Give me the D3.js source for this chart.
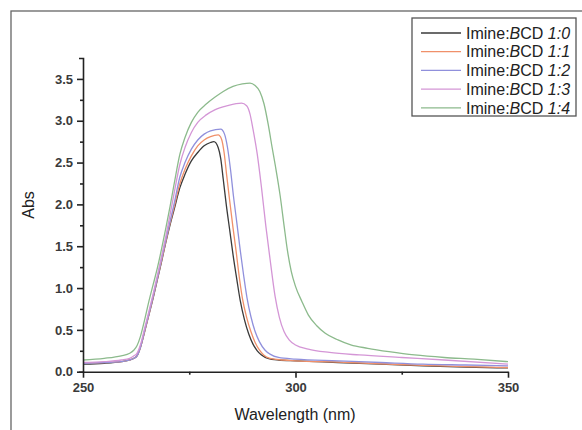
<!DOCTYPE html>
<html><head><meta charset="utf-8">
<script src="https://cdn.jsdelivr.net/npm/d3@7/dist/d3.min.js"></script>
<style>body{margin:0;background:#fff}svg{display:block;font-family:"Liberation Sans",Arial,sans-serif}</style>
</head><body><svg id="c" width="582" height="430"></svg>
<script>
const seriesNames = ["1:0","1:1","1:2","1:3","1:4"];
const seriesColors = ["#3a3a3a","#f0906a","#9090dc","#d496d6","#8cba8c"];
const s10 = [[250,0.09],[255,0.1],[259,0.12],[261,0.14],[262,0.16],[262.7,0.19],[263.5,0.29],[264.5,0.48],[265.5,0.68],[266.5,0.88],[267.5,1.1],[268.5,1.32],[269.5,1.55],[270.5,1.76],[271.5,1.95],[272.8,2.2],[274,2.36],[275.5,2.52],[277,2.62],[278.5,2.7],[280,2.74],[280.8,2.75],[281.8,2.68],[282.4,2.55],[283,2.3],[283.7,2.0],[284.5,1.7],[285.3,1.4],[286.2,1.1],[287,0.85],[288,0.62],[289,0.45],[290,0.33],[291,0.25],[292,0.2],[293.5,0.16],[296,0.14],[300,0.13],[310,0.11],[320,0.09],[330,0.07],[340,0.055],[350,0.045]];
const s11 = [[250,0.1],[255,0.11],[259,0.12],[261,0.14],[262,0.16],[262.7,0.19],[263.5,0.29],[264.5,0.48],[265.5,0.68],[266.5,0.89],[267.5,1.11],[268.5,1.33],[269.5,1.56],[270.5,1.78],[271.5,1.98],[272.8,2.25],[274,2.42],[275.5,2.58],[277,2.7],[278.5,2.77],[280,2.81],[281.8,2.83],[282.6,2.78],[283.2,2.62],[283.8,2.35],[284.5,2.05],[285.3,1.72],[286,1.45],[286.8,1.12],[287.5,0.88],[288.5,0.65],[289.5,0.48],[290.5,0.35],[291.5,0.26],[292.5,0.2],[294,0.16],[297,0.14],[300,0.13],[310,0.115],[320,0.095],[330,0.075],[340,0.06],[350,0.05]];
const s12 = [[250,0.1],[255,0.11],[259,0.12],[261,0.14],[262,0.16],[262.7,0.19],[263.5,0.29],[264.5,0.49],[265.5,0.69],[266.5,0.9],[267.5,1.12],[268.5,1.35],[269.5,1.58],[270.5,1.8],[271.5,2.02],[272.8,2.33],[274,2.5],[275.5,2.66],[277,2.77],[278.5,2.84],[280,2.88],[282.4,2.9],[283.3,2.84],[284,2.68],[284.7,2.42],[285.4,2.1],[286.2,1.78],[287,1.45],[287.8,1.15],[288.6,0.88],[289.5,0.66],[290.5,0.48],[291.5,0.36],[292.8,0.26],[294,0.21],[296,0.17],[300,0.15],[310,0.13],[320,0.11],[330,0.09],[340,0.08],[350,0.07]];
const s13 = [[250,0.11],[255,0.12],[259,0.14],[261,0.16],[262,0.19],[262.7,0.22],[263.5,0.32],[264.5,0.52],[265.5,0.72],[266.5,0.93],[267.5,1.15],[268.5,1.38],[269.5,1.62],[270.5,1.88],[271.5,2.15],[272.8,2.48],[274,2.68],[275.5,2.86],[277,2.98],[279,3.07],[281,3.13],[284,3.18],[287.3,3.21],[288.5,3.18],[289.3,3.08],[290,2.9],[291,2.6],[292,2.2],[293,1.75],[294,1.35],[295.2,0.9],[296.2,0.65],[297.3,0.48],[298.5,0.38],[300,0.32],[303,0.27],[308,0.23],[315,0.2],[325,0.17],[335,0.14],[350,0.09]];
const s14 = [[250,0.14],[255,0.16],[259,0.19],[261,0.22],[262,0.26],[262.7,0.31],[263.5,0.42],[264.5,0.62],[265.5,0.84],[266.5,1.04],[267.5,1.24],[268.5,1.47],[269.5,1.72],[270.5,1.98],[271.5,2.26],[272.8,2.6],[274,2.8],[275.5,2.98],[277,3.1],[279,3.2],[281,3.28],[283,3.35],[285.3,3.41],[287.5,3.44],[289.3,3.45],[290.5,3.42],[291.6,3.35],[292.6,3.2],[293.6,2.95],[294.5,2.68],[295.3,2.45],[296.4,2.1],[297.3,1.75],[298.1,1.45],[299,1.2],[300,1.02],[301.5,0.84],[303,0.68],[305,0.55],[307,0.46],[310,0.38],[313,0.32],[317,0.28],[322,0.24],[328,0.2],[335,0.17],[342,0.15],[350,0.12]];
const seriesData = [s10,s11,s12,s13,s14];
const xTicks = [250,300,350];
const xMinor = [275,325];
const yTicks = [0,0.5,1.0,1.5,2.0,2.5,3.0,3.5];
const yMinor = [0.25,0.75,1.25,1.75,2.25,2.75,3.25];

const svg = d3.select("#c");
// outer frame
svg.append("rect").attr("x",11).attr("y",11).attr("width",600).attr("height",450)
  .attr("fill","none").attr("stroke","#666").attr("stroke-width",1.3);

const x = d3.scaleLinear().domain([250,350]).range([83,508]);
const y = d3.scaleLinear().domain([0,3.75]).range([371.7,58]);

const line = d3.line().x(d=>x(d[0])).y(d=>y(d[1])).curve(d3.curveMonotoneX);
const g = svg.append("g");
seriesData.forEach((s,i)=>{
  g.append("path").datum(s).attr("d",line).attr("fill","none")
   .attr("stroke",seriesColors[i]).attr("stroke-width",1.3);
});

// axes
const xAxis = svg.append("g").attr("transform","translate(0,371.7)")
  .call(d3.axisBottom(x).tickValues(xTicks).tickFormat(d3.format("d")).tickSize(6).tickSizeOuter(0));
const xAxisMinor = svg.append("g").attr("transform","translate(0,371.7)")
  .call(d3.axisBottom(x).tickValues(xMinor).tickFormat("").tickSize(3).tickSizeOuter(0));
xAxisMinor.select(".domain").remove();
const yAxis = svg.append("g").attr("transform","translate(83,0)")
  .call(d3.axisLeft(y).tickValues(yTicks).tickFormat(d3.format(".1f")).tickSize(6).tickSizeOuter(4));
const yAxisMinor = svg.append("g").attr("transform","translate(83,0)")
  .call(d3.axisLeft(y).tickValues(yMinor).tickFormat("").tickSize(3).tickSizeOuter(0));
yAxisMinor.select(".domain").remove();
svg.selectAll(".domain, .tick line").attr("stroke","#222").attr("stroke-width",1.6);
svg.selectAll(".tick text").attr("font-family","Liberation Sans, Arial, sans-serif")
  .attr("font-size",13).attr("font-weight","bold").attr("fill","#3a3a3a");
xAxis.selectAll(".tick text").attr("dy","0.95em").attr("y",8);
yAxis.selectAll(".tick text").attr("x",-10);

// axis titles
svg.append("text").attr("x",295).attr("y",420).attr("text-anchor","middle")
  .attr("font-size",16).attr("fill","#222").text("Wavelength (nm)");
svg.append("text").attr("transform","translate(34,205) rotate(-90)").attr("text-anchor","middle")
  .attr("font-size",16).attr("fill","#222").text("Abs");

// legend
const lg = svg.append("g");
lg.append("rect").attr("x",412).attr("y",18).attr("width",164).attr("height",98)
  .attr("fill","#fff").attr("stroke","#555").attr("stroke-width",1.3);
seriesNames.forEach((n,i)=>{
  const yy = 33 + i*18.7;
  lg.append("line").attr("x1",421).attr("x2",461).attr("y1",yy).attr("y2",yy)
    .attr("stroke",seriesColors[i]).attr("stroke-width",1.3);
  const t = lg.append("text").attr("x",466).attr("y",yy).attr("dy","0.36em")
    .attr("font-size",16).attr("fill","#222");
  t.append("tspan").text("Imine:");
  t.append("tspan").attr("font-style","italic").text("B");
  t.append("tspan").text("CD ");
  t.append("tspan").attr("font-style","italic").text(n);
});
</script></body></html>
